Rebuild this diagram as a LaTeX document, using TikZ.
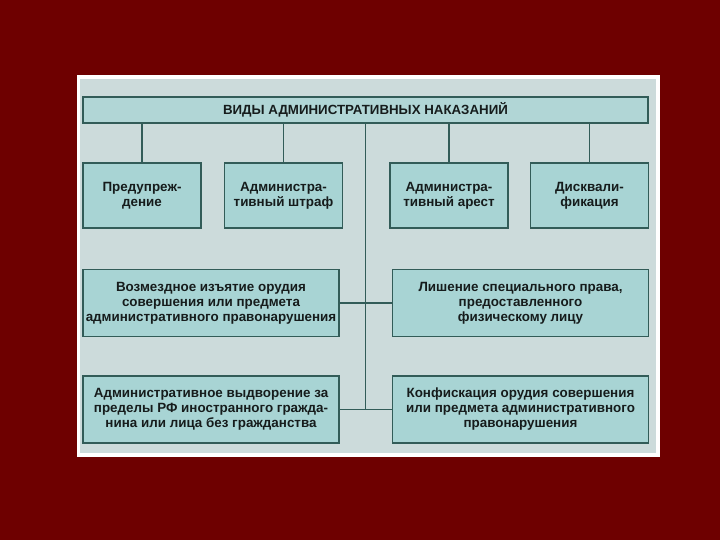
\documentclass[tikz,border=0pt]{standalone}
\usepackage{fontspec}
\setmainfont{Liberation Sans}
\usetikzlibrary{positioning}

\definecolor{slide}{RGB}{110,0,0}
\definecolor{panel}{RGB}{204,219,219}
\definecolor{boxfill}{RGB}{168,212,212}
\definecolor{linec}{RGB}{50,92,88}
\definecolor{ink}{RGB}{22,28,28}

\begin{document}
\begin{tikzpicture}[x=1pt, y=-1pt, semithick, node distance=22pt]
\tikzstyle{kind}=[draw=linec,fill=boxfill,line width=1.5pt,align=center,inner sep=0pt,minimum width=118pt,minimum height=65pt,text=ink,font=\bfseries\fontsize{13.4}{15}\selectfont]
\tikzstyle{widekind}=[kind,minimum width=256pt,minimum height=67pt]
\tikzstyle{head}=[kind,fill=boxfill!75!panel,minimum width=565pt,minimum height=26pt,font=\bfseries\fontsize{13.3}{15}\selectfont]
\tikzstyle{link}=[color=linec,line width=1.1pt]
% slide and sheet
\useasboundingbox (0,0) rectangle (720,540);
\fill[slide] (0,0) rectangle (720,540);
\fill[white] (77,75) rectangle (660,457);
\fill[panel] (80,79) rectangle (656,453);
% boxes
\node[head]     (title) at (365.5,110) {ВИДЫ АДМИНИСТРАТИВНЫХ НАКАЗАНИЙ};
\node[kind]     (warn) at (142,195.5)  {Предупреж-\\дение};
\node[kind]     (fine)    [right=22pt of warn]   {Администра-\\тивный штраф};
\node[kind]     (arrest)  [right=46pt of fine]   {Администра-\\тивный арест};
\node[kind]     (disq)    [right=21pt of arrest] {Дисквали-\\фикация};
\node[widekind] (seize)   [below right=40pt and 0pt of warn.south west] {Возмездное изъятие орудия\\совершения или предмета\\административного правонарушения};
\node[widekind] (deprive) [right=52pt of seize]  {Лишение специального права,\\предоставленного\\физическому лицу};
\node[widekind] (expel)   [below=38pt of seize]  {Административное выдворение за\\пределы РФ иностранного гражда-\\нина или лица без гражданства};
\node[widekind] (confisc) [right=52pt of expel]  {Конфискация орудия совершения\\или предмета административного\\правонарушения};
% connectors
\path[link]
(title.south -| warn.north)   edge (warn)
(title.south -| fine.north)   edge (fine)
(title.south -| arrest.north) edge (arrest)
(title.south -| disq.north)   edge (disq)
(title)  edge (title.south |- expel.east)
(seize)  edge (deprive)
(expel)  edge (confisc);
\end{tikzpicture}
\end{document}
